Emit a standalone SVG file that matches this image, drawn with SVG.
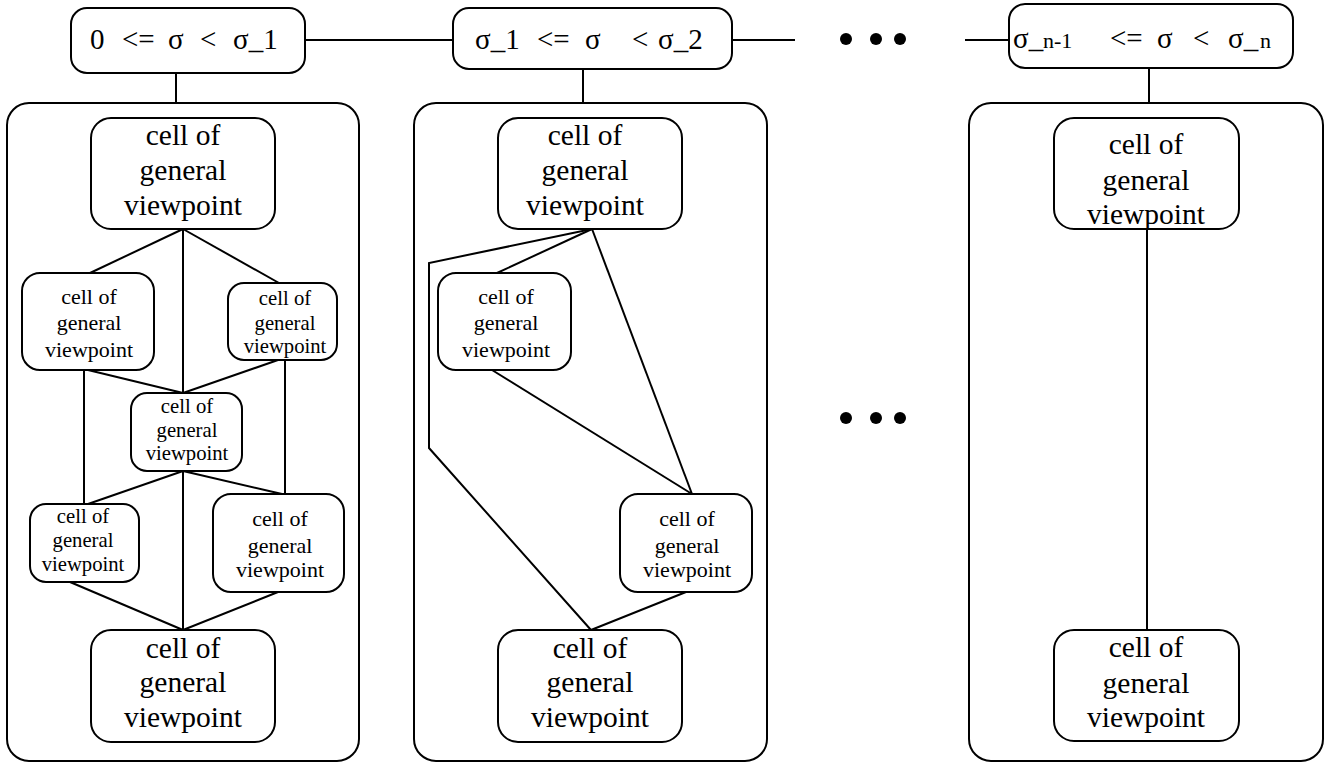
<svg xmlns="http://www.w3.org/2000/svg" width="1325" height="763" viewBox="0 0 1325 763">
  <style>
    .box { fill: #fff; stroke: #000; stroke-width: 2; }
    .frame { fill: none; stroke: #000; stroke-width: 2; }
    .edge { fill: none; stroke: #000; stroke-width: 2; }
    text { font-family: "Liberation Serif", "Times New Roman", serif; fill: #000; text-anchor: middle; }
    .hdr { font-size: 29px; text-anchor: start; }
    .sub { font-size: 22px; }
    .big { font-size: 29.5px; }
    .mid { font-size: 22px; }
    .sm { font-size: 20.7px; }
    .dot { fill: #000; }
  </style>

  <!-- connectors -->
  <g id="connectors">
    <!-- header chain -->
    <line class="edge" x1="305" y1="40" x2="453" y2="40"/>
    <line class="edge" x1="732" y1="40" x2="795" y2="40"/>
    <line class="edge" x1="965" y1="40" x2="1009" y2="40"/>
    <line class="edge" x1="176" y1="73" x2="176" y2="103"/>
    <line class="edge" x1="583" y1="69" x2="583" y2="103"/>
    <line class="edge" x1="1149" y1="68" x2="1149" y2="103"/>

    <!-- first range -->
    <line class="edge" x1="183" y1="229" x2="90" y2="273"/>
    <line class="edge" x1="183" y1="229" x2="183" y2="393"/>
    <line class="edge" x1="183" y1="229" x2="279" y2="283"/>
    <line class="edge" x1="88" y1="370" x2="183" y2="393"/>
    <line class="edge" x1="278" y1="360" x2="183" y2="393"/>
    <line class="edge" x1="84" y1="370" x2="84" y2="504"/>
    <line class="edge" x1="285" y1="360" x2="285" y2="494"/>
    <line class="edge" x1="183" y1="471" x2="88" y2="504"/>
    <line class="edge" x1="183" y1="471" x2="282" y2="494"/>
    <line class="edge" x1="183" y1="471" x2="183" y2="630"/>
    <line class="edge" x1="70" y1="582" x2="183" y2="630"/>
    <line class="edge" x1="278" y1="592" x2="183" y2="630"/>

    <!-- second range -->
    <polyline class="edge" points="592,229 429,263 429,448 591,630"/>
    <line class="edge" x1="592" y1="229" x2="497" y2="273"/>
    <line class="edge" x1="592" y1="229" x2="692" y2="494"/>
    <line class="edge" x1="492" y1="370" x2="692" y2="494"/>
    <line class="edge" x1="686" y1="592" x2="591" y2="630"/>

    <!-- last range -->
    <line class="edge" x1="1147" y1="229" x2="1147" y2="630"/>
  </g>

  <!-- ellipsis marks -->
  <g id="ellipsis-top">
    <circle class="dot" cx="846" cy="39" r="6"/>
    <circle class="dot" cx="876" cy="39" r="6"/>
    <circle class="dot" cx="900" cy="39" r="6"/>
  </g>
  <g id="ellipsis-mid">
    <circle class="dot" cx="846" cy="418" r="6"/>
    <circle class="dot" cx="876" cy="418" r="6"/>
    <circle class="dot" cx="900" cy="418" r="6"/>
  </g>

  <!-- range headers -->
  <g id="range-1">
    <rect class="box" x="71" y="8" width="234" height="65" rx="16"/>
    <text class="hdr" y="49"><tspan x="90">0</tspan> <tspan x="122">&lt;=</tspan> <tspan x="168">σ</tspan> <tspan x="200">&lt;</tspan> <tspan x="233">σ_1</tspan></text>
  </g>
  <g id="range-2">
    <rect class="box" x="453" y="8" width="279" height="61" rx="16"/>
    <text class="hdr" y="49"><tspan x="475">σ_1</tspan> <tspan x="537">&lt;=</tspan> <tspan x="585">σ</tspan>  <tspan x="632">&lt;</tspan> <tspan x="658">σ_2</tspan></text>
  </g>
  <g id="range-n">
    <rect class="box" x="1009" y="4" width="284" height="64" rx="16"/>
    <text class="hdr" y="48"><tspan x="1013">σ_</tspan> <tspan class="sub" x="1043">n-1</tspan> <tspan x="1110">&lt;=</tspan> <tspan x="1157">σ</tspan> <tspan x="1193">&lt;</tspan> <tspan x="1228">σ_</tspan> <tspan class="sub" x="1260">n</tspan></text>
  </g>

  <!-- range frames -->
  <g id="frame-1"><rect class="frame" x="7" y="103" width="352" height="658" rx="22"/></g>
  <g id="frame-2"><rect class="frame" x="414" y="103" width="353" height="658" rx="22"/></g>
  <g id="frame-n"><rect class="frame" x="969" y="103" width="354" height="658" rx="22"/></g>

  <!-- cells, first range -->
  <g id="r1-top">
    <rect class="box" x="91" y="118" width="184" height="111" rx="20"/>
    <text class="big"><tspan x="183" y="145">cell of</tspan><tspan x="183" y="180">general</tspan><tspan x="183" y="215">viewpoint</tspan></text>
  </g>
  <g id="r1-left">
    <rect class="box" x="22" y="273" width="132" height="97" rx="18"/>
    <text class="mid"><tspan x="89" y="304">cell of</tspan><tspan x="89" y="330">general</tspan><tspan x="89" y="357">viewpoint</tspan></text>
  </g>
  <g id="r1-right">
    <rect class="box" x="228" y="283" width="109" height="77" rx="16"/>
    <text class="sm"><tspan x="285" y="305">cell of</tspan><tspan x="285" y="330">general</tspan><tspan x="285" y="353">viewpoint</tspan></text>
  </g>
  <g id="r1-center">
    <rect class="box" x="131" y="393" width="111" height="78" rx="16"/>
    <text class="sm"><tspan x="187" y="413">cell of</tspan><tspan x="187" y="437">general</tspan><tspan x="187" y="460">viewpoint</tspan></text>
  </g>
  <g id="r1-lower-left">
    <rect class="box" x="30" y="504" width="109" height="78" rx="16"/>
    <text class="sm"><tspan x="83" y="523">cell of</tspan><tspan x="83" y="547">general</tspan><tspan x="83" y="571">viewpoint</tspan></text>
  </g>
  <g id="r1-lower-right">
    <rect class="box" x="213" y="494" width="131" height="98" rx="18"/>
    <text class="mid"><tspan x="280" y="526">cell of</tspan><tspan x="280" y="553">general</tspan><tspan x="280" y="577">viewpoint</tspan></text>
  </g>
  <g id="r1-bottom">
    <rect class="box" x="91" y="630" width="184" height="112" rx="20"/>
    <text class="big"><tspan x="183" y="658">cell of</tspan><tspan x="183" y="692">general</tspan><tspan x="183" y="727">viewpoint</tspan></text>
  </g>

  <!-- cells, second range -->
  <g id="r2-top">
    <rect class="box" x="498" y="118" width="184" height="111" rx="20"/>
    <text class="big"><tspan x="585" y="145">cell of</tspan><tspan x="585" y="180">general</tspan><tspan x="585" y="215">viewpoint</tspan></text>
  </g>
  <g id="r2-left">
    <rect class="box" x="438" y="273" width="133" height="97" rx="18"/>
    <text class="mid"><tspan x="506" y="304">cell of</tspan><tspan x="506" y="330">general</tspan><tspan x="506" y="357">viewpoint</tspan></text>
  </g>
  <g id="r2-lower-right">
    <rect class="box" x="620" y="494" width="132" height="98" rx="18"/>
    <text class="mid"><tspan x="687" y="526">cell of</tspan><tspan x="687" y="553">general</tspan><tspan x="687" y="577">viewpoint</tspan></text>
  </g>
  <g id="r2-bottom">
    <rect class="box" x="498" y="630" width="184" height="112" rx="20"/>
    <text class="big"><tspan x="590" y="658">cell of</tspan><tspan x="590" y="692">general</tspan><tspan x="590" y="727">viewpoint</tspan></text>
  </g>

  <!-- cells, last range -->
  <g id="rn-top">
    <rect class="box" x="1054" y="118" width="185" height="111" rx="20"/>
    <text class="big"><tspan x="1146" y="154">cell of</tspan><tspan x="1146" y="190">general</tspan><tspan x="1146" y="224">viewpoint</tspan></text>
  </g>
  <g id="rn-bottom">
    <rect class="box" x="1054" y="630" width="185" height="111" rx="20"/>
    <text class="big"><tspan x="1146" y="657">cell of</tspan><tspan x="1146" y="693">general</tspan><tspan x="1146" y="727">viewpoint</tspan></text>
  </g>
</svg>
